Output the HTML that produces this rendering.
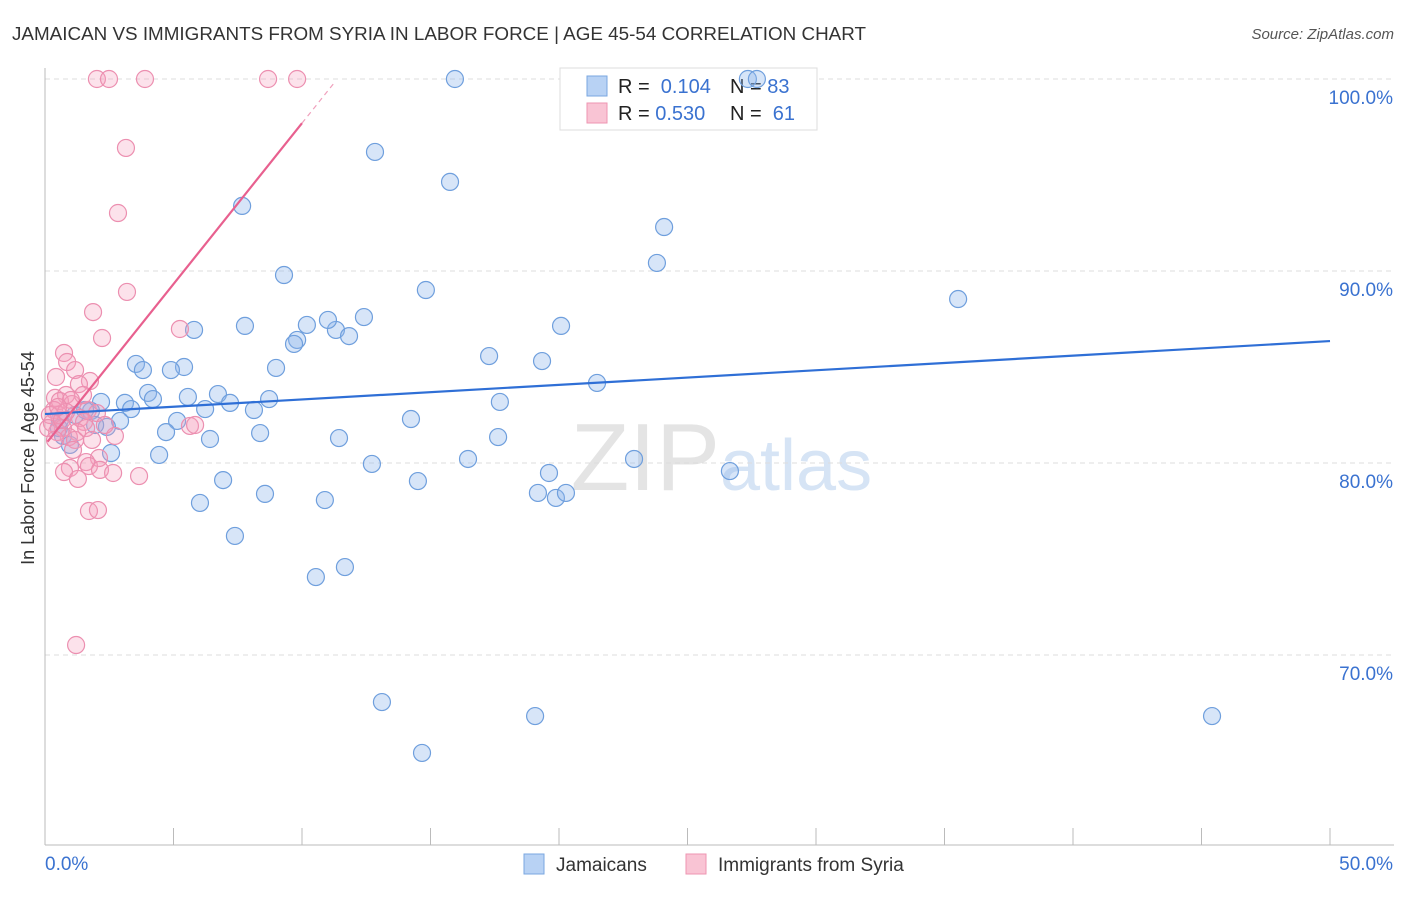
<!DOCTYPE html>
<html><head><meta charset="utf-8"><style>
body{margin:0;background:#fff;font-family:"Liberation Sans",sans-serif;}
svg text{font-family:"Liberation Sans",sans-serif;}
</style></head><body>
<svg id="c" width="1406" height="892" xmlns="http://www.w3.org/2000/svg">
<text x="12" y="40" font-size="18" fill="#333" textLength="854" lengthAdjust="spacingAndGlyphs">JAMAICAN VS IMMIGRANTS FROM SYRIA IN LABOR FORCE | AGE 45-54 CORRELATION CHART</text>
<text x="1394" y="39" font-size="15" fill="#555" font-style="italic" text-anchor="end">Source: ZipAtlas.com</text>
<text x="34" y="458" font-size="18" fill="#333" text-anchor="middle" transform="rotate(-90 34 458)">In Labor Force | Age 45-54</text>
<text x="720" y="490" font-size="96" fill="#e4e4e4" font-family="Liberation Serif" text-anchor="end">ZIP</text>
<text x="720" y="490" font-size="72" fill="#d6e4f5" text-anchor="start">atlas</text>
<g id="grid"></g>
<g>
<rect x="560" y="68" width="257" height="62" fill="#fff" stroke="#ddd"/>
<rect x="587" y="76" width="20" height="20" fill="#b8d2f4" stroke="#7aa7e0"/>
<text x="618" y="93" font-size="20" fill="#222">R = <tspan fill="#3a72d0">&#160;0.104</tspan></text>
<text x="730" y="93" font-size="20" fill="#222">N = <tspan fill="#3a72d0">83</tspan></text>
<rect x="587" y="103" width="20" height="20" fill="#f9c4d4" stroke="#ee95b2"/>
<text x="618" y="120" font-size="20" fill="#222">R = <tspan fill="#3a72d0">0.530</tspan></text>
<text x="730" y="120" font-size="20" fill="#222">N = <tspan fill="#3a72d0">&#160;61</tspan></text>
</g>
<g id="pts"></g><g id="trend"></g>
<g>
<rect x="524" y="854" width="20" height="20" fill="#b8d2f4" stroke="#7aa7e0"/>
<text x="556" y="871" font-size="19" fill="#333">Jamaicans</text>
<rect x="686" y="854" width="20" height="20" fill="#f9c4d4" stroke="#ee95b2"/>
<text x="718" y="871" font-size="19" fill="#333">Immigrants from Syria</text>
</g>
</svg>
<script>
const yTicks=[100,90,80,70];
const yTickLabels=["100.0%","90.0%","80.0%","70.0%"];
const xTickLabels=["0.0%","50.0%"];
const blueX=[15.95,27.35,27.7,12.84,15.76,7.67,24.09,23.81,9.30,14.82,35.53,12.41,10.19,7.78,20.08,11.32,5.80,11.83,9.81,9.69,11.01,17.28,19.34,3.54,5.41,3.81,8.99,4.90,21.48,4.01,6.73,5.56,4.20,8.72,2.18,3.11,7.20,17.70,6.23,8.13,3.35,1.79,14.24,5.14,2.92,2.41,4.71,8.37,17.63,11.44,6.42,0.70,0.54,0.97,2.57,4.44,16.46,22.92,12.72,19.61,26.65,6.93,14.51,8.56,19.18,19.88,20.27,10.89,6.03,7.39,11.67,10.54,13.11,19.07,45.41,14.67,0.58,1.17,1.56,1.95];
const blueY=[100,100,100,96.2,94.64,93.39,92.29,90.42,89.79,89.01,88.54,87.60,87.19,87.14,87.14,86.93,86.93,86.61,86.41,86.20,87.45,85.57,85.31,85.16,85.0,84.84,84.95,84.84,84.17,83.65,83.59,83.44,83.33,83.33,83.18,83.13,83.13,83.18,82.81,82.76,82.81,82.71,82.29,82.19,82.19,81.88,81.61,81.56,81.35,81.30,81.25,81.41,81.82,80.94,80.52,80.42,80.21,80.21,79.95,79.48,79.58,79.11,79.06,78.39,78.44,78.18,78.44,78.07,77.92,76.20,74.58,74.06,67.55,66.82,66.82,64.90,82.24,82.50,82.76,81.98];
const pinkX=[2.02,2.49,3.89,8.68,9.81,3.15,2.84,3.19,1.87,2.22,5.25,0.74,0.86,1.17,0.43,1.75,1.32,0.82,0.39,0.58,1.05,1.67,2.02,0.35,0.54,1.36,1.52,0.27,0.70,1.25,0.93,1.17,2.72,5.64,5.84,0.47,1.09,2.10,1.60,1.71,0.97,2.14,2.65,0.74,3.66,1.28,1.71,2.06,1.21,0.19,0.12,0.39,0.66,1.48,1.01,0.82,0.51,1.60,1.83,2.33];
const pinkY=[100,100,100,100,100,96.41,93.02,88.91,87.86,86.51,86.98,85.73,85.26,84.84,84.48,84.27,84.11,83.54,83.39,83.23,83.07,82.76,82.60,82.76,82.50,82.34,82.14,82.08,81.82,81.61,81.35,81.20,81.41,81.93,81.98,81.61,80.68,80.26,80.05,79.84,79.74,79.64,79.48,79.53,79.32,79.17,77.50,77.55,70.52,82.50,81.82,81.20,82.24,83.54,83.28,82.66,82.92,81.82,81.20,81.98];
const blueTrend=[82.55,86.35];
const pinkTrend=[80.94,1.676];
const NS="http://www.w3.org/2000/svg";
const X=v=>45+v*25.7, Y=v=>79+(100-v)*19.2;
function mk(t,a,p){const e=document.createElementNS(NS,t);for(const k in a)e.setAttribute(k,a[k]);p.appendChild(e);return e;}
const g=document.getElementById('grid');
yTicks.forEach((t,i)=>{const l=mk('line',{x1:45,x2:1394,y1:Y(t),y2:Y(t),stroke:'#ddd','stroke-dasharray':'5,4'},g);


const tx=mk('text',{x:1393,y:Y(t)+25,'font-size':19,fill:'#3a72d0','text-anchor':'end'},g);tx.textContent=yTickLabels[i];

});
const ax=mk('line',{x1:45,x2:1394,y1:845,y2:845,stroke:'#bbb'},g);


const ay=mk('line',{x1:45,x2:45,y1:68,y2:845,stroke:'#bbb'},g);


for(let i=0;i<=10;i++){const t=mk('line',{x1:X(i*5),x2:X(i*5),y1:828,y2:845,stroke:'#bbb'},g);

}
[[0,'start',45],[50,'end',1393]].forEach((d,i)=>{const t=mk('text',{x:d[2],y:870,'font-size':19,fill:'#3a72d0','text-anchor':d[1]},g);t.textContent=xTickLabels[i];

});
const p=document.getElementById('pts');
blueX.forEach((v,i)=>{const c=mk('circle',{cx:X(v),cy:Y(blueY[i]),r:8.5,fill:'rgba(140,180,235,0.35)',stroke:'#6f9fdd','stroke-width':1.2},p);

});
pinkX.forEach((v,i)=>{const c=mk('circle',{cx:X(v),cy:Y(pinkY[i]),r:8.5,fill:'rgba(245,160,190,0.3)',stroke:'#ec8fb0','stroke-width':1.2},p);

});
const tr=document.getElementById('trend');
const b=mk('line',{x1:X(0),y1:Y(blueTrend[0]),x2:X(50),y2:Y(blueTrend[1]),stroke:'#2f6fd6','stroke-width':2.2},tr);


const pk=mk('line',{x1:X(0.1),y1:Y(pinkTrend[0]+0.1*pinkTrend[1]),x2:X(10),y2:Y(pinkTrend[0]+10*pinkTrend[1]),stroke:'#e8608f','stroke-width':2.2},tr);


const pd=mk('line',{x1:X(10),y1:Y(pinkTrend[0]+10*pinkTrend[1]),x2:X(11.3),y2:Y(pinkTrend[0]+11.3*pinkTrend[1]),stroke:'#f0a0bc','stroke-width':1.2,'stroke-dasharray':'5,4'},tr);


</script>
</body></html>
